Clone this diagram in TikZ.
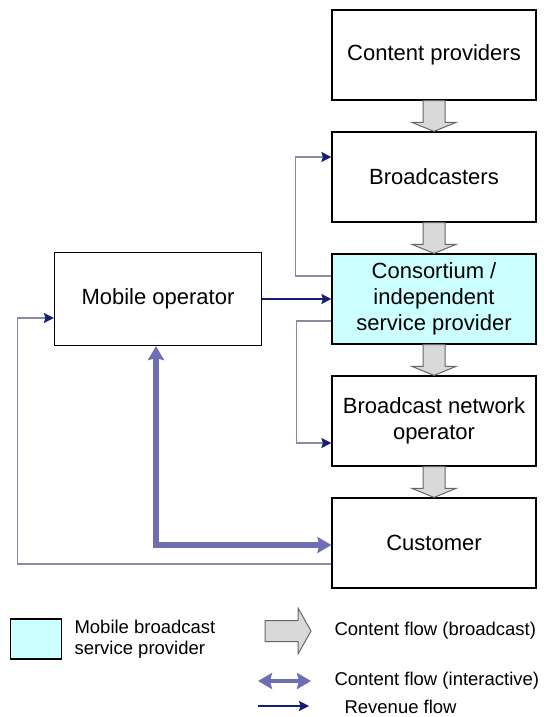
\documentclass[tikz,border=0pt]{standalone}
\usepackage{fontspec}
\setmainfont{Liberation Sans}
\usetikzlibrary{arrows.meta, calc}

\definecolor{spcyan}{RGB}{204,255,255}
\definecolor{revnavy}{RGB}{20,30,120}
\definecolor{revgray}{RGB}{135,140,160}
\definecolor{ifpurple}{RGB}{110,110,180}
\definecolor{bcgray}{RGB}{217,217,217}

% broadcast content flow: block arrow from one box down to the next
\newcommand{\bcflow}[2]{%
	\filldraw[bcflow] ($(#1.south)+(-11,0)$) -- ($(#2.north)+(-11,9)$) -- ($(#2.north)+(-22,9)$) -- (#2.north)
		-- ($(#2.north)+(22,9)$) -- ($(#2.north)+(11,9)$) -- ($(#1.south)+(11,0)$) -- cycle;}

\begin{document}
\begin{tikzpicture}[x=1pt,y=1pt,>={Stealth[length=10pt,width=10pt,inset=1.5pt]},node distance=122pt]
	\tikzstyle{box} = [draw,line width=1.2pt,minimum width=204pt,minimum height=90pt,align=center,font=\fontsize{22}{26}\selectfont]
	\tikzstyle{key} = [anchor=west,align=left,font=\fontsize{18.5}{21}\selectfont]
	\tikzstyle{bcflow} = [fill=bcgray,draw=gray!80!black,line width=1pt]
	\tikzstyle{rev} = [draw=revgray,line width=1.3pt,-{Stealth[length=10pt,width=10pt,inset=1.5pt,color=revnavy]}]
	\tikzstyle{revdark} = [draw=revnavy,line width=1.3pt,->]
	\tikzstyle{inter} = [draw=ifpurple,line width=6pt,line join=miter,{Stealth[length=14pt,width=16pt,inset=2pt]}-{Stealth[length=14pt,width=16pt,inset=2pt]}]
	\useasboundingbox (0,0) rectangle (546,-717);
	\node[box]				(cp) at (434,-55)			{Content providers};
	\node[box]				(bc) [below of=cp]			{Broadcasters};
	\node[box,fill=spcyan]	(sp) [below of=bc]			{Consortium /\\independent\\service provider};
	\node[box]				(bno) [below of=sp]			{Broadcast network\\operator};
	\node[box]				(cu) [below of=bno]			{Customer};
	\node[box,minimum width=207pt,minimum height=93pt]	(mo) [left of=sp,node distance=276pt]	{Mobile operator};
	\bcflow{cp}{bc}
	\bcflow{bc}{sp}
	\bcflow{sp}{bno}
	\bcflow{bno}{cu}
	\draw[rev] ([yshift=23pt]sp.west) -- ++(-36,0) |- ([yshift=20pt]bc.west);
	\draw[revdark] (mo.east) -- (sp.west);
	\draw[rev] ([yshift=-22pt]sp.west) -- ++(-35,0) |- ([yshift=-22pt]bno.west);
	\draw[rev] ([yshift=-21pt]cu.west) -- ++(-314,0) |- ([yshift=-19pt]mo.west);
	\draw[inter] ([xshift=-2pt]mo.south) |- ([yshift=-2pt]cu.west);
	% legend
	\node[draw,line width=1.2pt,fill=spcyan,minimum width=51pt,minimum height=40pt] (keysp) at (36,-639) {};
	\node[key] (keysptext) at (71,-639) {Mobile broadcast\\service provider};
	\coordinate (bcA) at (265,-631);
	\coordinate (bcB) at (311,-631);
	\filldraw[bcflow] ($(bcA)+(0,10.5)$) -- ($(bcB)+(-13,10.5)$) -- ($(bcB)+(-13,23)$) -- (bcB)
		-- ($(bcB)+(-13,-23)$) -- ($(bcB)+(-13,-10.5)$) -- ($(bcA)+(0,-10.5)$) -- cycle;
	\node[key] (keybc) at (331,-631) {Content flow (broadcast)};
	\coordinate (ifA) at (258,-681);
	\coordinate (ifB) at (311,-681);
	\draw[inter,line width=4pt] (ifA) -- (ifB);
	\node[key] (keyif) at (331,-681) {Content flow (interactive)};
	\coordinate (rvA) at (258,-706);
	\coordinate (rvB) at (309,-706);
	\draw[revdark] (rvA) -- (rvB);
	\node[key] (keyrv) at (341,-707) {Revenue flow};
\end{tikzpicture}
\end{document}
